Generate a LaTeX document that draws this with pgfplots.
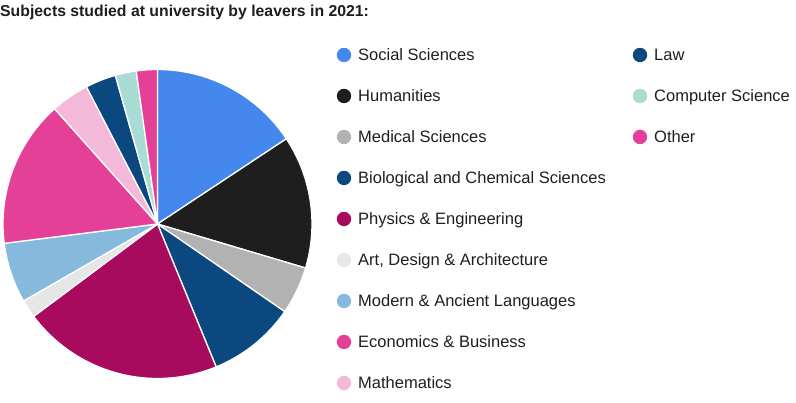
\documentclass[border=0pt]{standalone}
\usepackage{pgfplots}
\usepackage{pgfplotstable}
\pgfplotsset{compat=1.18}
\usepackage{fontspec}
\setmainfont{Liberation Sans}
\definecolor{cSS}{RGB}{68,136,238}
\definecolor{cHum}{RGB}{30,30,30}
\definecolor{cMed}{RGB}{178,178,178}
\definecolor{cBio}{RGB}{12,72,128}
\definecolor{cPhy}{RGB}{168,10,94}
\definecolor{cArt}{RGB}{230,230,230}
\definecolor{cMod}{RGB}{134,186,220}
\definecolor{cEco}{RGB}{228,64,152}
\definecolor{cMat}{RGB}{244,184,216}
\definecolor{cLaw}{RGB}{12,72,128}
\definecolor{cCS}{RGB}{168,220,212}
\definecolor{cOth}{RGB}{228,64,152}
\definecolor{txt}{RGB}{30,30,30}
\pgfplotstableread[col sep=semicolon]{
label;value;color
Social Sciences;15.7;cSS
Humanities;13.9;cHum
Medical Sciences;5.0;cMed
Biological and Chemical Sciences;9.2;cBio
Physics \& Engineering;21.0;cPhy
Art, Design \& Architecture;1.9;cArt
Modern \& Ancient Languages;6.3;cMod
Economics \& Business;15.4;cEco
Mathematics;4.0;cMat
Law;3.2;cLaw
Computer Science;2.2;cCS
Other;2.2;cOth
}\datatable
\begin{document}
\begin{tikzpicture}
\begin{axis}[width=796pt,height=403pt,scale only axis,
  xmin=0,xmax=796,ymin=0,ymax=403,hide axis,clip=false]
\node[anchor=base west,inner sep=0pt,font=\fontsize{15.8}{18}\selectfont\bfseries,text=txt]
  at (axis cs:0,386) {Subjects studied at university by leavers in 2021:};
\pgfplotstablegetrowsof{\datatable}
\pgfmathtruncatemacro{\N}{\pgfplotsretval-1}
\def\cum{0}
\pgfplotsforeachungrouped \i in {0,...,\N}{%
  \pgfplotstablegetelem{\i}{value}\of\datatable \let\v\pgfplotsretval
  \pgfplotstablegetelem{\i}{color}\of\datatable \let\c\pgfplotsretval
  \pgfplotstablegetelem{\i}{label}\of\datatable \let\lbl\pgfplotsretval
  \pgfmathsetmacro{\sa}{90-3.6*\cum}%
  \pgfmathsetmacro{\ea}{90-3.6*(\cum+\v)}%
  \edef\temp{\noexpand\fill[fill=\c,draw=white,line width=1.3pt,line join=round] (axis cs:157.5,179) -- ++(\sa:154.5pt) arc[start angle=\sa,end angle=\ea,radius=154.5pt] -- cycle;}%
  \temp
  \ifnum\i<9
    \pgfmathsetmacro{\lx}{344}\pgfmathsetmacro{\ly}{403-55-41*\i}%
  \else
    \pgfmathsetmacro{\lx}{640}\pgfmathsetmacro{\ly}{403-55-41*(\i-9)}%
  \fi
  \pgfmathsetmacro{\tx}{\lx+14}\pgfmathsetmacro{\ty}{\ly-6}%
  \edef\temp{\noexpand\fill[\c] (axis cs:\lx,\ly) circle[radius=7.2pt];
    \noexpand\node[anchor=base west,inner sep=0pt,font=\noexpand\fontsize{16.5}{19}\noexpand\selectfont,text=txt] at (axis cs:\tx,\ty) {\unexpanded\expandafter{\lbl}};}%
  \temp
  \pgfmathsetmacro{\cum}{\cum+\v}%
}
\end{axis}
\pgfresetboundingbox
\path[use as bounding box] (current axis.south west) rectangle (current axis.north east);
\end{tikzpicture}
\end{document}
